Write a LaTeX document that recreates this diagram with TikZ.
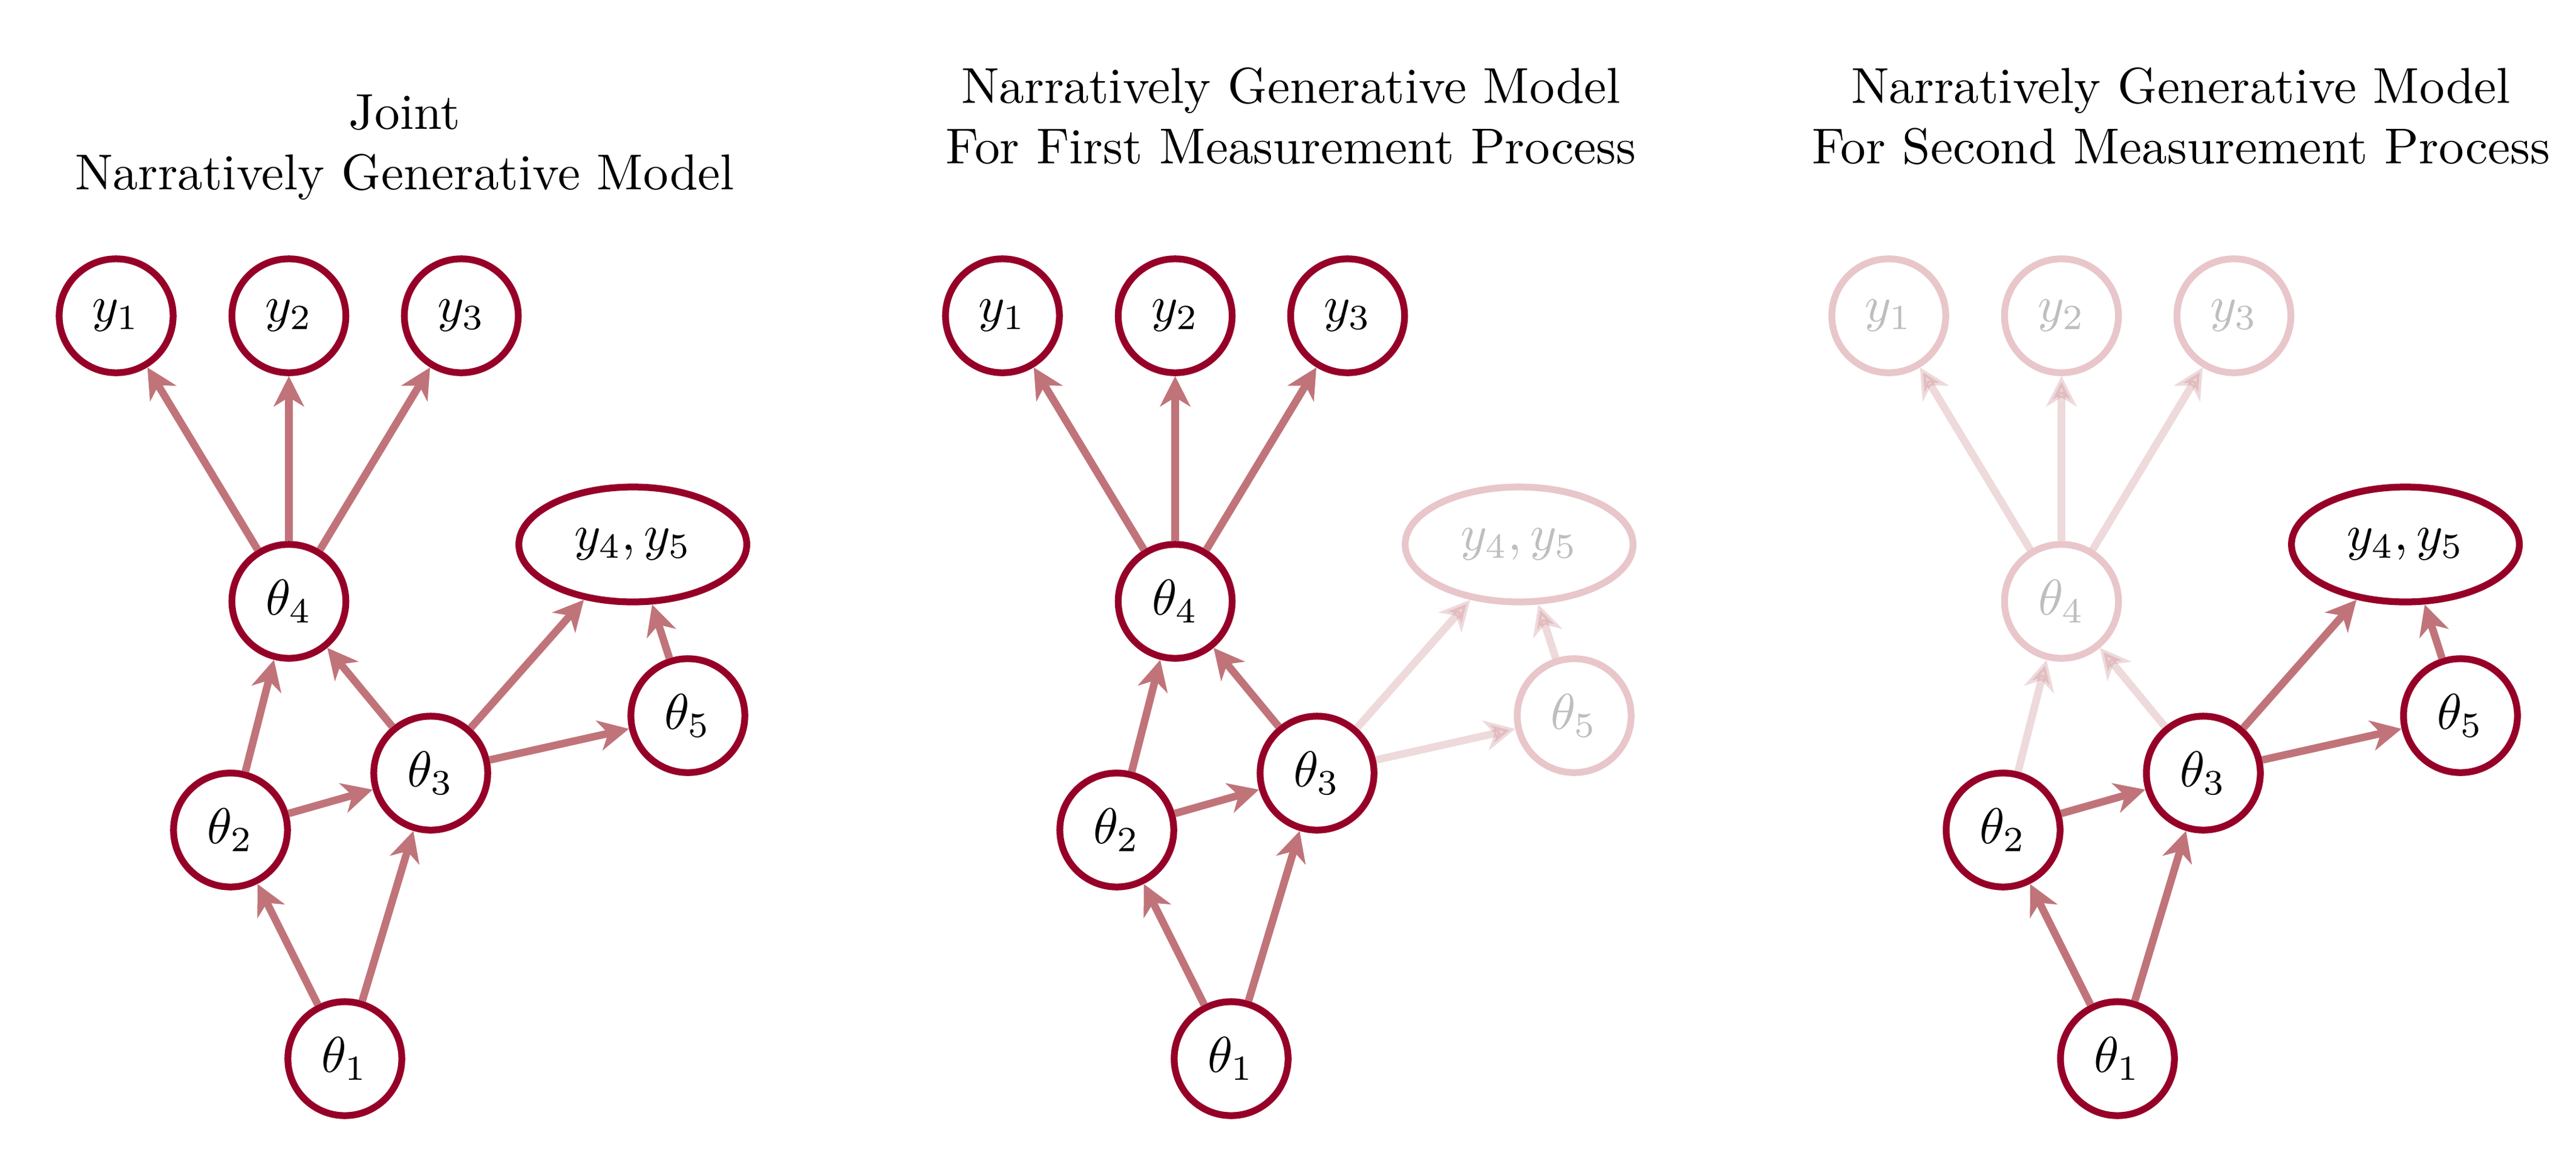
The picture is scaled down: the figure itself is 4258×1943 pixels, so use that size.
\documentclass[tikz,border=0pt]{standalone}
\usetikzlibrary{arrows.meta,shapes.geometric}
\definecolor{nodered}{RGB}{150,0,40}
\definecolor{arrowc}{RGB}{192,116,122}
\definecolor{fadeborder}{RGB}{232,198,202}
\definecolor{fadetext}{RGB}{190,190,190}
\begin{document}
\begin{tikzpicture}[x=0.12pt,y=-0.12pt,
  var/.style={circle,draw=nodered,line width=1.35pt,fill=white,minimum size=22.6pt,inner sep=0pt},
  varfade/.style={var,draw=fadeborder,text=fadetext},
  obs/.style={ellipse,draw=nodered,line width=1.35pt,fill=white,minimum width=45.2pt,minimum height=22.8pt,inner sep=0pt},
  obsfade/.style={obs,draw=fadeborder,text=fadetext},
  edge/.style={draw=arrowc,line width=1.5pt,-{Stealth[length=6pt,width=6pt,inset=1.8pt]}},
  edgefade/.style={edge,opacity=0.27},
  title/.style={align=center,anchor=base,inner sep=0pt}]
\useasboundingbox (0,0) rectangle (4258,1943);

% ---------- Panel 1 ----------
\begin{scope}[shift={(0,0)}]
\node[title] (ta) at (669,313) {Joint\\Narratively Generative Model};
\node[var] (a1) at (570,1750) {$\theta_1$};
\node[var] (a2) at (381,1372) {$\theta_2$};
\node[var] (a3) at (712,1278) {$\theta_3$};
\node[var] (a4) at (477.5,994) {$\theta_4$};
\node[var] (a5) at (1137,1183) {$\theta_5$};
\node[var] (ay1) at (192,522) {$y_1$};
\node[var] (ay2) at (477.5,522) {$y_2$};
\node[var] (ay3) at (762.5,522) {$y_3$};
\node[obs] (ay45) at (1046,900) {$y_4, y_5$};
\draw[edge] (a1) -- (a2);
\draw[edge] (a1) -- (a3);
\draw[edge] (a2) -- (a3);
\draw[edge] (a2) -- (a4);
\draw[edge] (a3) -- (a4);
\draw[edge] (a3) -- (a5);
\draw[edge] (a3) -- (ay45);
\draw[edge] (a5) -- (ay45);
\draw[edge] (a4) -- (ay1);
\draw[edge] (a4) -- (ay2);
\draw[edge] (a4) -- (ay3);
\end{scope}

% ---------- Panel 2 ----------
\begin{scope}[shift={(1465,0)}]
\node[title] (tb) at (669,270) {Narratively Generative Model\\For First Measurement Process};
\node[var] (b1) at (570,1750) {$\theta_1$};
\node[var] (b2) at (381,1372) {$\theta_2$};
\node[var] (b3) at (712,1278) {$\theta_3$};
\node[var] (b4) at (477.5,994) {$\theta_4$};
\node[varfade] (b5) at (1137,1183) {$\theta_5$};
\node[var] (by1) at (192,522) {$y_1$};
\node[var] (by2) at (477.5,522) {$y_2$};
\node[var] (by3) at (762.5,522) {$y_3$};
\node[obsfade] (by45) at (1046,900) {$y_4, y_5$};
\draw[edge] (b1) -- (b2);
\draw[edge] (b1) -- (b3);
\draw[edge] (b2) -- (b3);
\draw[edge] (b2) -- (b4);
\draw[edge] (b3) -- (b4);
\draw[edgefade] (b3) -- (b5);
\draw[edgefade] (b3) -- (by45);
\draw[edgefade] (b5) -- (by45);
\draw[edge] (b4) -- (by1);
\draw[edge] (b4) -- (by2);
\draw[edge] (b4) -- (by3);
\end{scope}

% ---------- Panel 3 ----------
\begin{scope}[shift={(2930,0)}]
\node[title] (tc) at (675,270) {Narratively Generative Model\\For Second Measurement Process};
\node[var] (c1) at (570,1750) {$\theta_1$};
\node[var] (c2) at (381,1372) {$\theta_2$};
\node[var] (c3) at (712,1278) {$\theta_3$};
\node[varfade] (c4) at (477.5,994) {$\theta_4$};
\node[var] (c5) at (1137,1183) {$\theta_5$};
\node[varfade] (cy1) at (192,522) {$y_1$};
\node[varfade] (cy2) at (477.5,522) {$y_2$};
\node[varfade] (cy3) at (762.5,522) {$y_3$};
\node[obs] (cy45) at (1046,900) {$y_4, y_5$};
\draw[edge] (c1) -- (c2);
\draw[edge] (c1) -- (c3);
\draw[edge] (c2) -- (c3);
\draw[edgefade] (c2) -- (c4);
\draw[edgefade] (c3) -- (c4);
\draw[edge] (c3) -- (c5);
\draw[edge] (c3) -- (cy45);
\draw[edge] (c5) -- (cy45);
\draw[edgefade] (c4) -- (cy1);
\draw[edgefade] (c4) -- (cy2);
\draw[edgefade] (c4) -- (cy3);
\end{scope}
\end{tikzpicture}
\end{document}
